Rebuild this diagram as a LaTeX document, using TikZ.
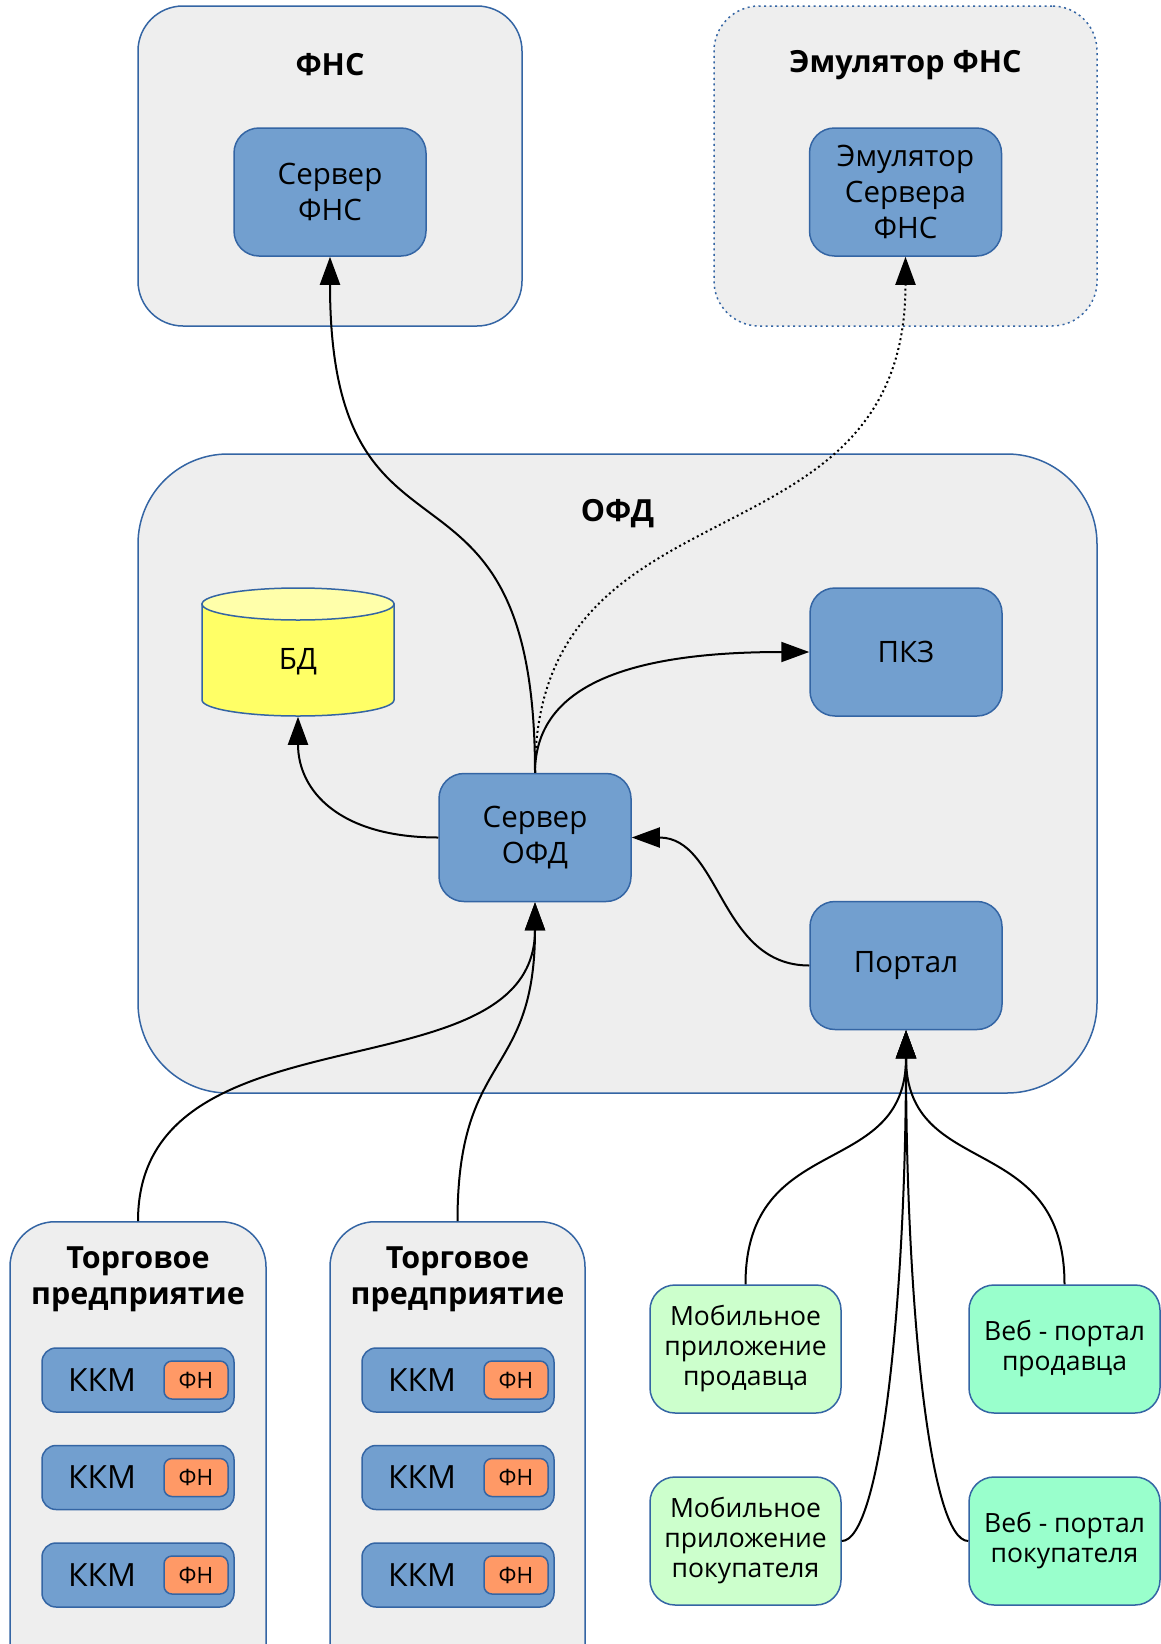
\documentclass[tikz,border=0pt]{standalone}
\usepackage{fontspec}
\setmainfont{Open Sans}
\usepackage{color}
\usepackage{tikz}
\usetikzlibrary{arrows.meta,positioning}

\definecolor{lineblue}{HTML}{3465A4}
\definecolor{groupgray}{HTML}{EEEEEE}
\definecolor{srvblue}{HTML}{729FCF}
\definecolor{dbyellow}{HTML}{FFFF66}
\definecolor{dbtop}{HTML}{FFFFAA}
\definecolor{fnorange}{HTML}{FF9966}
\definecolor{mobgreen}{HTML}{CCFFCC}
\definecolor{webgreen}{HTML}{99FFCC}

\begin{document}
\begin{tikzpicture}[x=1pt,y=-1pt,
            grp/.style={draw=lineblue,fill=groupgray,line width=1.5pt,rounded corners=45pt,inner sep=0pt},
            grptitle/.style={font=\fontsize{30.5}{36}\selectfont\bfseries,align=center},
            box/.style={draw=lineblue,line width=1.5pt,rounded corners=25pt,minimum width=192pt,minimum height=128pt,inner sep=0pt,align=center,font=\fontsize{29.5}{36}\selectfont},
            srv/.style={box,fill=srvblue},
            app/.style={box,font=\fontsize{26.5}{30}\selectfont},
            kkm/.style={draw=lineblue,fill=srvblue,line width=1.5pt,rounded corners=14pt,text width=140pt,inner xsep=26pt,minimum height=64pt,align=left,font=\fontsize{32}{36}\selectfont},
            fnbox/.style={draw=lineblue,fill=fnorange,line width=1.5pt,rounded corners=8pt,minimum width=64pt,minimum height=38pt,inner sep=0pt,font=\fontsize{22.5}{26}\selectfont},
            link/.style={draw,-{Triangle[length=28pt,width=20pt]},line width=2pt}
          ]
          \fill[white] (0,0) rectangle (1161,1644);
          \useasboundingbox (0,0) rectangle (1161,1644);

          %groups
          \node[grp,minimum width=384pt,minimum height=320pt] (fns) at (330,166) {};
          \node[grp,dash pattern=on 2pt off 3.5pt,minimum width=383pt,minimum height=320pt] (emu) at (905.5,166) {};
          \node[grp,rounded corners=90pt,minimum width=959pt,minimum height=639pt] (ofd) at (617.5,773.5) {};
          \node[grp,anchor=north,minimum width=256pt,minimum height=480pt] (tp1) at (138,1221) {};
          \node[grp,anchor=north,minimum width=255pt,minimum height=480pt] (tp2) at (457.5,1221) {};

          %titles
          \node[grptitle] (fnstitle) at (330,65) {ФНС};
          \node[grptitle] (emutitle) at (905.5,65) {Эмулятор ФНС};
          \node[grptitle] (ofdtitle) at (617.5,514) {ОФД};
          \node[grptitle] (tp1title) at (138,1279) {Торговое\\предприятие};
          \node[grptitle] (tp2title) at (457.5,1279) {Торговое\\предприятие};

          %servers
          \node[srv] (srvfns) at (330,192) {Сервер\\ФНС};
          \node[srv] (emusrv) at (905.5,192) {Эмулятор\\Сервера\\ФНС};
          \node[srv] (pkz) at (906,652) {ПКЗ};
          \node[srv] (srvofd) at (535,837.5) {Сервер\\ОФД};
          \node[srv] (portal) at (906,965.5) {Портал};

          %database
          \filldraw[draw=lineblue,fill=dbyellow,line width=1.5pt] (202,604) -- (202,700)
            arc[start angle=180,end angle=0,x radius=96,y radius=16] -- (394,604) -- cycle;
          \filldraw[draw=lineblue,fill=dbtop,line width=1.5pt] (298,604) ellipse[x radius=96,y radius=16];
          \node[box,draw=none] (bd) at (298,652) {\raisebox{-10pt}[\height][\depth]{БД}};

          %cash registers
          \node[kkm] (kkm11) at (138,1380) {ККМ};
          \node[kkm,below=32pt of kkm11] (kkm12) {ККМ};
          \node[kkm,below=32pt of kkm12] (kkm13) {ККМ};
          \node[kkm] (kkm21) at (458,1380) {ККМ};
          \node[kkm,below=32pt of kkm21] (kkm22) {ККМ};
          \node[kkm,below=32pt of kkm22] (kkm23) {ККМ};
          \node[fnbox,left=6pt of kkm11.east] (fn11) {ФН};
          \node[fnbox,left=6pt of kkm12.east] (fn12) {ФН};
          \node[fnbox,left=6pt of kkm13.east] (fn13) {ФН};
          \node[fnbox,left=6pt of kkm21.east] (fn21) {ФН};
          \node[fnbox,left=6pt of kkm22.east] (fn22) {ФН};
          \node[fnbox,left=6pt of kkm23.east] (fn23) {ФН};

          %clients
          \node[app,fill=mobgreen,minimum width=191pt] (mobsel) at (745.5,1349) {Мобильное\\приложение\\продавца};
          \node[app,fill=webgreen,minimum width=191pt] (websel) at (1064.5,1349) {Веб - портал\\продавца};
          \node[app,fill=mobgreen,minimum width=191pt] (mobbuy) at (745.5,1541) {Мобильное\\приложение\\покупателя};
          \node[app,fill=webgreen,minimum width=191pt] (webbuy) at (1064.5,1541) {Веб - портал\\покупателя};

          %links
          \path[link] (srvofd.north) .. controls +(0,-353) and +(0,344) .. (srvfns.south);
          \path[link,dash pattern=on 2pt off 3pt] (srvofd.north) .. controls +(0,-303) and +(0,320) .. (emusrv.south);
          \path[link] (srvofd.north) .. controls +(0,-83) and +(-190,0) .. (pkz.west);
          \path[link] (srvofd.west) .. controls +(-99,0) and +(0,74) .. (bd.south);
          \path[link] (portal.west) .. controls +(-90,0) and +(89,0) .. (srvofd.east);
          \path[link] (tp1.north) .. controls +(0,-221) and +(0,198) .. (srvofd.south);
          \path[link] (tp2.north) .. controls +(0,-171) and +(0,178) .. (srvofd.south);
          \path[link] (mobsel.north) .. controls +(0,-155) and +(0,151) .. (portal.south);
          \path[link] (websel.north) .. controls +(0,-155) and +(0,151) .. (portal.south);
          \path[link] (mobbuy.east) .. controls +(39,0) and +(0,271) .. (portal.south);
          \path[link] (webbuy.west) .. controls +(-39,0) and +(0,271) .. (portal.south);

      \end{tikzpicture}
\end{document}
